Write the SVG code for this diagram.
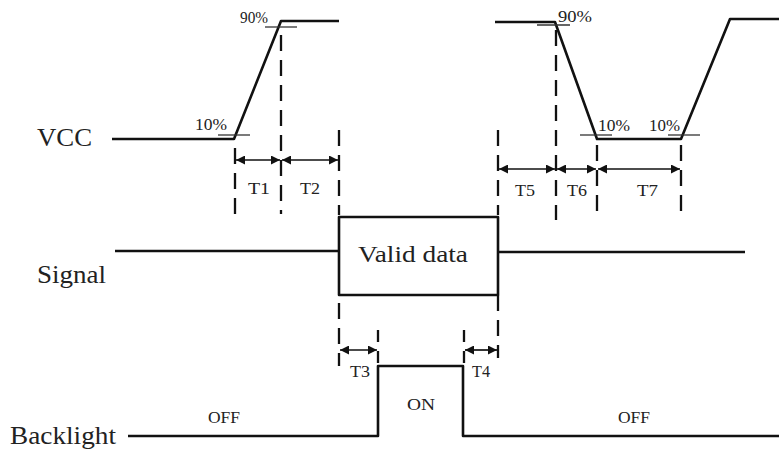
<svg xmlns="http://www.w3.org/2000/svg" width="779" height="452" viewBox="0 0 779 452">
<defs>
<marker id="ah" viewBox="0 0 10 10" refX="10" refY="5" markerWidth="9" markerHeight="9" markerUnits="userSpaceOnUse" orient="auto-start-reverse">
<path d="M0,0 L10,5 L0,10 z" fill="#111"/>
</marker>
<style>
.sig{fill:none;stroke:#111;stroke-width:2.6;stroke-linejoin:round}
.tick{fill:none;stroke:#333;stroke-width:1.3}
.dash{fill:none;stroke:#111;stroke-width:2.3;stroke-dasharray:16 9}
.dim{fill:none;stroke:#111;stroke-width:1.7;marker-start:url(#ah);marker-end:url(#ah)}
.lbl{font-family:"Liberation Serif","Times New Roman",serif;fill:#222}
.big{font-size:25px}
.mid{font-size:17px}
.sm{font-size:16px}
</style>
</defs>
<rect width="779" height="452" fill="#fff"/>
<g id="labels">
<text class="lbl big" x="37" y="146" textLength="55" lengthAdjust="spacingAndGlyphs">VCC</text>
<text class="lbl big" x="37" y="283" textLength="69" lengthAdjust="spacingAndGlyphs">Signal</text>
<text class="lbl big" x="10" y="444" textLength="106" lengthAdjust="spacingAndGlyphs">Backlight</text>
</g>
<g id="vcc">
<polyline class="sig" points="112,139 234,139 281,21 339,21"/>
<polyline class="sig" points="495,22 555,22 597,139 681,139 730,19 779,19"/>
<line class="tick" x1="218" y1="135" x2="250" y2="135"/>
<line class="tick" x1="265" y1="27" x2="297" y2="27"/>
<line class="tick" x1="537" y1="25" x2="570" y2="25"/>
<line class="tick" x1="580" y1="135" x2="612" y2="135"/>
<line class="tick" x1="668" y1="135" x2="700" y2="135"/>
<text class="lbl sm" x="195" y="130" textLength="32" lengthAdjust="spacingAndGlyphs">10%</text>
<text class="lbl sm" x="240" y="23" textLength="28" lengthAdjust="spacingAndGlyphs">90%</text>
<text class="lbl sm" x="558" y="22" textLength="34" lengthAdjust="spacingAndGlyphs">90%</text>
<text class="lbl sm" x="598" y="131" textLength="32" lengthAdjust="spacingAndGlyphs">10%</text>
<text class="lbl sm" x="649" y="131" textLength="31" lengthAdjust="spacingAndGlyphs">10%</text>
</g>
<g id="signal">
<line class="sig" x1="115" y1="251" x2="339" y2="251"/>
<rect class="sig" x="339" y="217" width="159" height="78"/>
<line class="sig" x1="498" y1="252" x2="745" y2="252"/>
<text class="lbl" x="358" y="262" font-size="23" textLength="110" lengthAdjust="spacingAndGlyphs">Valid data</text>
</g>
<g id="backlight">
<polyline class="sig" points="128,436 378,436 378,366 463,366 463,436 779,436"/>
<text class="lbl sm" x="208" y="423" textLength="32" lengthAdjust="spacingAndGlyphs">OFF</text>
<text class="lbl sm" x="407" y="410" textLength="28" lengthAdjust="spacingAndGlyphs">ON</text>
<text class="lbl sm" x="618" y="423" textLength="32" lengthAdjust="spacingAndGlyphs">OFF</text>
</g>
<g id="connectors">
<line class="dash" x1="235" y1="148" x2="235" y2="214"/>
<line class="dash" x1="281" y1="35" x2="281" y2="214"/>
<line class="dash" x1="339" y1="130" x2="339" y2="215"/>
<line class="dash" x1="498" y1="130" x2="498" y2="215"/>
<line class="dash" x1="556" y1="30" x2="556" y2="220"/>
<line class="dash" x1="597" y1="145" x2="597" y2="220"/>
<line class="dash" x1="681" y1="145" x2="681" y2="217"/>
<line class="dash" x1="339" y1="303" x2="339" y2="366"/>
<line class="dash" x1="498" y1="295" x2="498" y2="358"/>
<line class="dash" x1="378" y1="330" x2="378" y2="366" style="stroke-dasharray:12 9"/>
<line class="dash" x1="464" y1="330" x2="464" y2="366" style="stroke-dasharray:12 9"/>
<line class="dim" x1="236" y1="160" x2="280" y2="160"/>
<line class="dim" x1="282" y1="160" x2="338" y2="160"/>
<line class="dim" x1="499" y1="169" x2="555" y2="169"/>
<line class="dim" x1="557" y1="169" x2="596" y2="169"/>
<line class="dim" x1="598" y1="169" x2="680" y2="169"/>
<line class="dim" x1="340" y1="350" x2="377" y2="350"/>
<line class="dim" x1="465" y1="350" x2="497" y2="350"/>
</g>
<g id="dimlabels">
<text class="lbl mid" x="248" y="194" textLength="22" lengthAdjust="spacingAndGlyphs">T1</text>
<text class="lbl mid" x="300" y="194" textLength="20" lengthAdjust="spacingAndGlyphs">T2</text>
<text class="lbl mid" x="515" y="196" textLength="20" lengthAdjust="spacingAndGlyphs">T5</text>
<text class="lbl mid" x="567" y="196" textLength="20" lengthAdjust="spacingAndGlyphs">T6</text>
<text class="lbl mid" x="637" y="196" textLength="21" lengthAdjust="spacingAndGlyphs">T7</text>
<text class="lbl mid" x="350" y="377" textLength="20" lengthAdjust="spacingAndGlyphs">T3</text>
<text class="lbl mid" x="472" y="377" textLength="18" lengthAdjust="spacingAndGlyphs">T4</text>
</g>
</svg>
